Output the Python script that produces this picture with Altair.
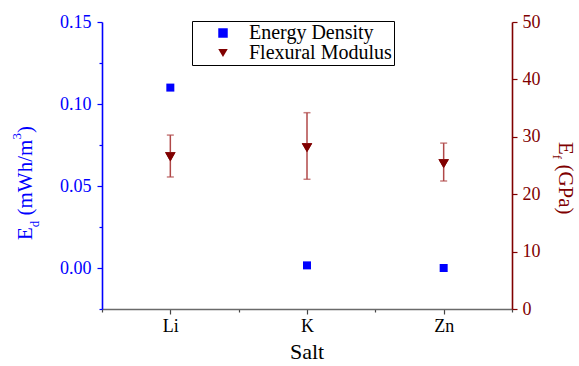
import altair as alt
import pandas as pd

# ---- data ----
salts = ["Li", "K", "Zn"]
salt_pos = [1, 2, 3]
energy_density = [0.110, 0.0016, 0.000]          # mWh/m^3
flex_modulus = [26.5, 28.1, 25.3]                # GPa
flex_upper = [30.3, 34.2, 28.9]
flex_lower = [23.0, 22.6, 22.3]

series_names = ["Energy Density", "Flexural Modulus"]
series_colors = ["#0000ff", "#800000"]
series_shapes = ["square", "triangle-down"]

ed_ticks = [-0.025, 0.0, 0.025, 0.05, 0.075, 0.10, 0.125, 0.15]
ef_ticks = [0, 5, 10, 15, 20, 25, 30, 35, 40, 45, 50]
x_ticks = [0.5, 1, 1.5, 2, 2.5, 3, 3.5]

SERIF = "Liberation Serif"
BLUE = "#0000ff"
RED = "#800000"
ERR = "#b04848"

ed_df = pd.DataFrame({"pos": salt_pos, "salt": salts, "value": energy_density,
                      "series": series_names[0]})
fm_df = pd.DataFrame({"pos": salt_pos, "salt": salts, "value": flex_modulus,
                      "upper": flex_upper, "lower": flex_lower,
                      "series": series_names[1]})

label_expr = " : ".join(
    [f"datum.value == {p} ? '{s}'" for p, s in zip(salt_pos, salts)]) + " : ''"

x_enc = alt.X("pos:Q",
              scale=alt.Scale(domain=[0.5, 3.5], nice=False, zero=False),
              axis=alt.Axis(values=x_ticks, labelExpr=label_expr, title=None,
                            grid=False, domainColor="#6a6a6a", domainWidth=1.6,
                            tickColor="#444444", tickWidth=1.2,
                            tickSize={"condition": {"test": "datum.value % 1 == 0", "value": 5}, "value": 3},
                            labelFont=SERIF, labelFontSize=18, labelColor="black",
                            labelPadding=3, labelOverlap=False, labelFlush=False))

legend = alt.Legend(orient="none", legendX=90, legendY=-1, title=None,
                    strokeColor="black", fillColor="white", padding=2,
                    labelFont=SERIF, labelFontSize=20, labelColor="black",
                    symbolSize=90, symbolOffset=19, labelOffset=16,
                    rowPadding=0, symbolStrokeWidth=0)

color_enc = alt.Color("series:N", scale=alt.Scale(domain=series_names, range=series_colors),
                      legend=legend)
shape_enc = alt.Shape("series:N", scale=alt.Scale(domain=series_names, range=series_shapes),
                      legend=legend)

left = alt.Chart(ed_df).mark_point(filled=True, size=64, opacity=1).encode(
    x=x_enc,
    y=alt.Y("value:Q",
            scale=alt.Scale(domain=[-0.025, 0.15], nice=False, zero=False),
            axis=alt.Axis(orient="left", values=ed_ticks, title=None, grid=False,
                          labelExpr="abs(datum.value*20 - round(datum.value*20)) < 1e-6 ? format(datum.value, '.2f') : ''",
                          domainColor=BLUE, domainWidth=1.6, tickColor=BLUE, tickWidth=1.2,
                          tickSize={"condition": {"test": "abs(datum.value*20 - round(datum.value*20)) < 1e-6", "value": 5}, "value": 3},
                          labelFont=SERIF, labelFontSize=18, labelColor=BLUE,
                          labelPadding=6, labelOverlap=False, labelFlush=False)),
    color=color_enc,
    shape=shape_enc,
)

y_right = alt.Y("value:Q",
                scale=alt.Scale(domain=[0, 50], nice=False, zero=False),
                axis=alt.Axis(orient="right", values=ef_ticks, title=None, grid=False,
                              labelExpr="datum.value % 10 == 0 ? format(datum.value, 'd') : ''",
                              domainColor=RED, domainWidth=1.6, tickColor=RED, tickWidth=1.2,
                              tickSize={"condition": {"test": "datum.value % 10 == 0", "value": 5}, "value": 3},
                              labelFont=SERIF, labelFontSize=18, labelColor=RED,
                              labelPadding=5, labelOverlap=False, labelFlush=False))

fm_base = alt.Chart(fm_df)
err_rule = fm_base.mark_rule(color=ERR, strokeWidth=1.5).encode(
    x=alt.X("pos:Q"), y=alt.Y("lower:Q"), y2="upper:Q")
cap_top = fm_base.mark_tick(color=ERR, orient="horizontal", size=7, thickness=1.5).encode(
    x=alt.X("pos:Q"), y=alt.Y("upper:Q"))
cap_bot = fm_base.mark_tick(color=ERR, orient="horizontal", size=7, thickness=1.5).encode(
    x=alt.X("pos:Q"), y=alt.Y("lower:Q"))
tri = fm_base.mark_point(filled=True, size=110, opacity=1).encode(
    x=alt.X("pos:Q"), y=y_right, color=color_enc, shape=shape_enc)

right = alt.layer(tri, err_rule, cap_top, cap_bot, tri)

one = pd.DataFrame({"k": [0]})


def txt(s, x, y, angle, size, color, dx=0, dy=0, align="left"):
    return alt.Chart(one).mark_text(text=s, angle=angle, font=SERIF, fontSize=size,
                                    color=color, align=align, baseline="alphabetic",
                                    dx=dx, dy=dy).encode(x=alt.value(x), y=alt.value(y))


# left axis title: E_d (mWh/m^3), rotated 270, starting at the bottom
lx, ly = -70, 218
left_title = [
    txt("E", lx, ly, 270, 21, BLUE),
    txt("d", lx, ly, 270, 13, BLUE, dx=12.8, dy=7),
    txt("(mWh/m", lx, ly, 270, 21, BLUE, dx=24.5),
    txt("3", lx, ly, 270, 13, BLUE, dx=100.6, dy=-11),
    txt(")", lx, ly, 270, 21, BLUE, dx=107.1),
]
# right axis title: E_f (GPa), rotated 90, starting at the top
rx, ry = 457, 120
right_title = [
    txt("E", rx, ry, 90, 21, RED),
    txt("f", rx, ry, 90, 13, RED, dx=12.8, dy=6),
    txt("(GPa)", rx, ry, 90, 21, RED, dx=22.4),
]
x_title = txt("Salt", 205, 337, 0, 22, "black", align="center")

chart = alt.layer(left, right, *left_title, *right_title, x_title).resolve_scale(
    y="independent"
).properties(
    width=410, height=287,
    padding={"left": 102, "top": 22, "right": 67, "bottom": 57},
    autosize="none",
).configure_view(stroke=None)

chart.save("out.html", embed_options={"renderer": "svg", "actions": False})
